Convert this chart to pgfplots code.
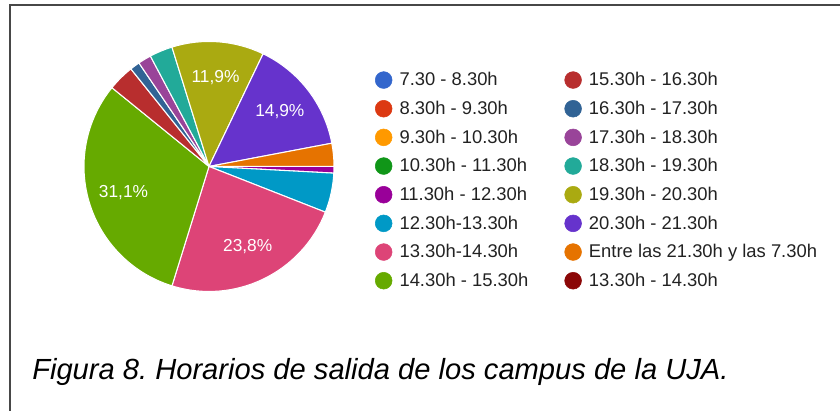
\documentclass[border=0pt]{standalone}
\usepackage{pgfplots}
\pgfplotsset{compat=1.18}
\usepackage{pgfplotstable}
\usepackage{fontspec}
\setmainfont{Liberation Sans}

% Google Charts palette, one colour per answer
\definecolor{s0}{HTML}{3366CC}
\definecolor{s1}{HTML}{DC3912}
\definecolor{s2}{HTML}{FF9900}
\definecolor{s3}{HTML}{109618}
\definecolor{s4}{HTML}{990099}
\definecolor{s5}{HTML}{0099C6}
\definecolor{s6}{HTML}{DD4477}
\definecolor{s7}{HTML}{66AA00}
\definecolor{s8}{HTML}{B82E2E}
\definecolor{s9}{HTML}{316395}
\definecolor{s10}{HTML}{994499}
\definecolor{s11}{HTML}{22AA99}
\definecolor{s12}{HTML}{AAAA11}
\definecolor{s13}{HTML}{6633CC}
\definecolor{s14}{HTML}{E67300}
\definecolor{s15}{HTML}{8B0707}
\definecolor{txt}{HTML}{222222}

% answers per time slot (235 in total), in legend order
\pgfplotstableread{
slot n
0 0
1 0
2 0
3 0
4 2
5 12
6 56
7 73
8 8
9 3
10 4
11 7
12 28
13 35
14 7
15 0
}\salida

\begin{document}
\begin{tikzpicture}[x=0.75pt,y=0.75pt]
\path[use as bounding box] (0,0) rectangle (840,411);
% frame of the figure (top and left edges only visible)
\draw[line width=1.5pt, color=black!72] (9.8,0) -- (9.8,406.3) -- (840,406.3);

\begin{axis}[
    hide axis, clip=false,
    x=93.75pt, y=93.75pt,
    xmin=-1, xmax=1, ymin=-1, ymax=1,
    at={(156.75pt,183.4pt)}, anchor=center,
    legend image code/.code={\fill[#1] (0pt,0pt) circle (6.3pt);},
    legend columns=8, transpose legend,
    legend cell align=left,
    legend style={
        draw=none, fill=none, inner sep=0pt, outer sep=0pt,
        at={(1.164,0.887)}, anchor=north west,
        font=\fontsize{13.8pt}{16pt}\selectfont, text=txt,
        row sep=6pt,
        /tikz/column 1/.style={column sep=3.4pt},
        /tikz/column 2/.style={column sep=25pt},
        /tikz/column 3/.style={column sep=3.4pt},
    },
    legend entries={
        7.30 - 8.30h, 8.30h - 9.30h, 9.30h - 10.30h, 10.30h - 11.30h,
        11.30h - 12.30h, 12.30h-13.30h, 13.30h-14.30h, 14.30h - 15.30h,
        15.30h - 16.30h, 16.30h - 17.30h, 17.30h - 18.30h, 18.30h - 19.30h,
        19.30h - 20.30h, 20.30h - 21.30h, Entre las 21.30h y las 7.30h,
        13.30h - 14.30h},
]
\addlegendimage{s0}\addlegendimage{s1}\addlegendimage{s2}\addlegendimage{s3}
\addlegendimage{s4}\addlegendimage{s5}\addlegendimage{s6}\addlegendimage{s7}
\addlegendimage{s8}\addlegendimage{s9}\addlegendimage{s10}\addlegendimage{s11}
\addlegendimage{s12}\addlegendimage{s13}\addlegendimage{s14}\addlegendimage{s15}

\pgfplotsextra{
  % total of answers
  \def\tot{0}
  \pgfplotsforeachungrouped \i in {0,...,15}{%
    \pgfplotstablegetelem{\i}{n}\of{\salida}%
    \pgfmathsetmacro\tot{\tot+\pgfplotsretval}%
  }
  % slices, clockwise from 3 o'clock
  \def\cum{0}
  \pgfplotsforeachungrouped \i in {0,...,15}{%
    \pgfplotstablegetelem{\i}{n}\of{\salida}\let\v\pgfplotsretval
    \pgfmathsetmacro\aa{-\cum/\tot*360}%
    \pgfmathsetmacro\cum{\cum+\v}%
    \pgfmathsetmacro\bb{-\cum/\tot*360}%
    \pgfmathtruncatemacro\nz{\v>0}%
    \ifnum\nz=1
      \filldraw[fill=s\i, draw=white, line width=0.8pt, line join=round]
        (axis cs:0,0) -- ++(\aa:93.75pt) arc[start angle=\aa, end angle=\bb, radius=93.75pt] -- cycle;
    \fi
  }
  % percentages on the slices above 10%
  \def\cum{0}
  \pgfplotsforeachungrouped \i in {0,...,15}{%
    \pgfplotstablegetelem{\i}{n}\of{\salida}\let\v\pgfplotsretval
    \pgfmathsetmacro\midang{-(\cum+\v/2)/\tot*360}%
    \pgfmathsetmacro\cum{\cum+\v}%
    \pgfmathsetmacro\pct{\v/\tot*100}%
    \pgfmathtruncatemacro\isbig{\pct>10}%
    \ifnum\isbig=1
      \path (axis cs:0,0) ++(\midang:67pt) node[text=white, font=\fontsize{13pt}{15pt}\selectfont]
        {\pgfmathprintnumber[fixed, precision=1, fixed zerofill, use comma, assume math mode=true]{\pct}\%};
    \fi
  }
}
\end{axis}

\node[anchor=base west, inner sep=0pt, text=black, font=\fontsize{21.85pt}{26pt}\selectfont\itshape]
  at (32,31.7) {Figura 8.\ Horarios de salida de los campus de la UJA.};
\end{tikzpicture}
\end{document}
